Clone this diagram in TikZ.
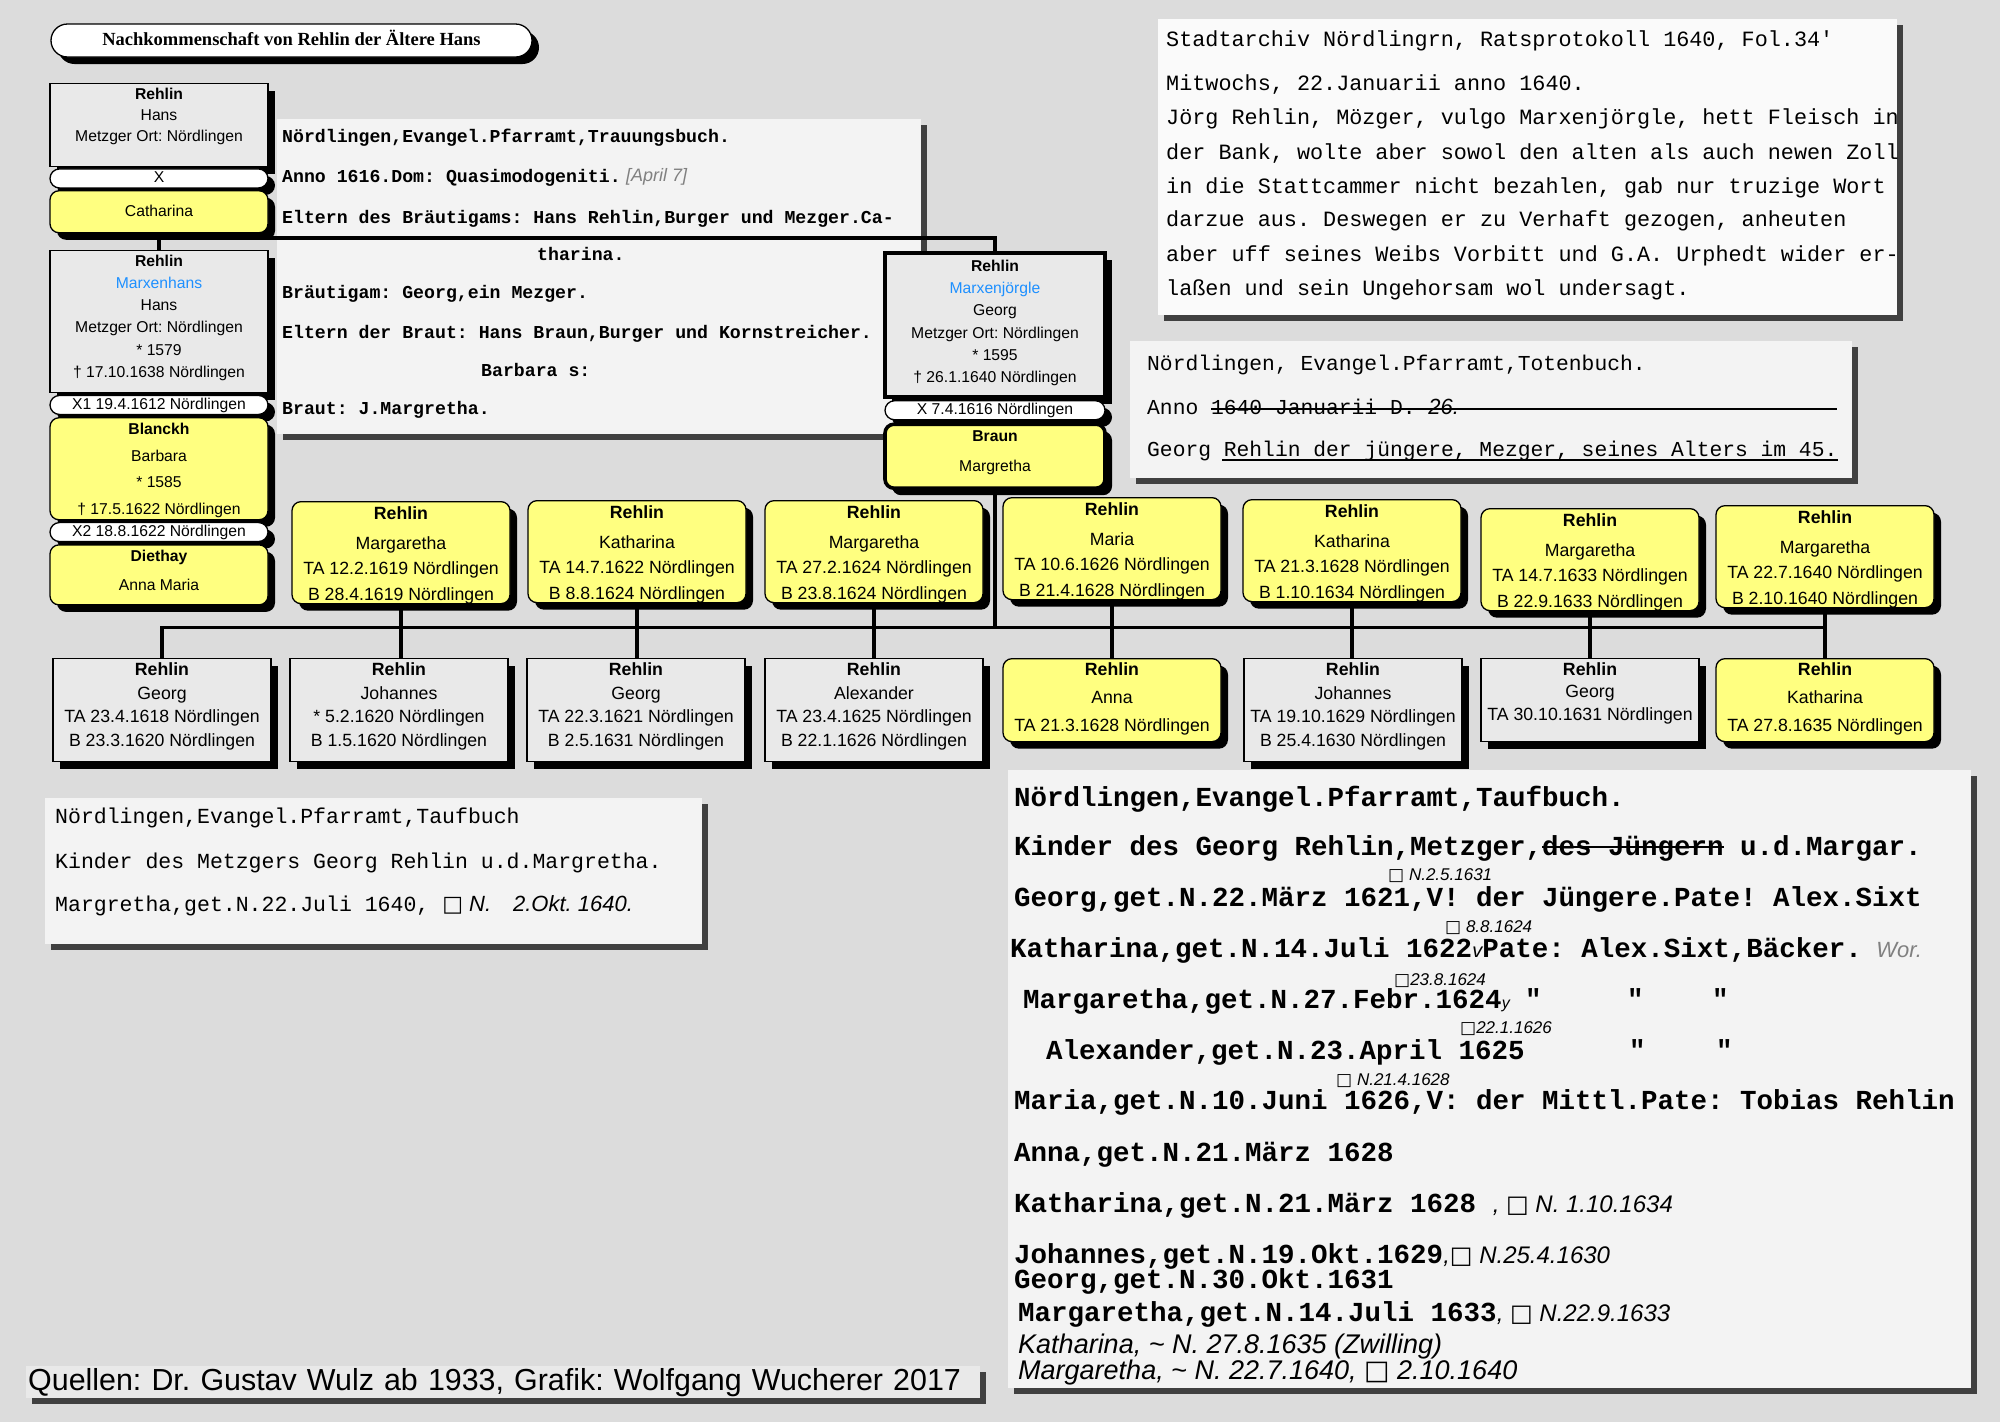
\documentclass[tikz,border=0pt]{standalone}
\usepackage{fontspec}
\setmainfont{Liberation Sans}
\newfontfamily\schreibm{Liberation Mono}
\newfontfamily\titelschrift{Liberation Serif}
\newfontfamily\symb{DejaVu Sans}
\usepackage{tikz}
\usetikzlibrary{
  positioning,
  shapes.misc,
  shadows
}

\definecolor{hgrund}{RGB}{220,220,220}
\definecolor{kastengrau}{RGB}{233,233,233}
\definecolor{gelb}{RGB}{255,255,128}
\definecolor{blau}{RGB}{30,144,255}
\definecolor{papier}{RGB}{243,243,243}

% Kasteninhalt: Hoehe, Breite, erste Grundlinie, Zeilenabstand, Text
\newcommand{\kasten}[5]{\parbox[c][#1][t]{#2}{\centering\baselineskip=#4\relax\rule{0pt}{#3}#5}}
% Handschrift und Begraebniszeichen
\newcommand{\hand}[2]{{\normalfont\itshape\fontsize{#1}{#1}\selectfont #2}}
\newcommand{\qu}{{\symb\upshape □}}

\begin{document}
\frenchspacing
\begin{tikzpicture}[
      x=1pt, y=-1pt,
      mann/.style={draw=black, line width=1.3pt, fill=kastengrau, inner sep=0pt,
        drop shadow={shadow xshift=7pt, shadow yshift=-7pt, fill=black, opacity=1}},
      frau/.style={mann, fill=gelb, rounded corners=9pt},
      ehe/.style={rounded rectangle, draw=black, line width=1.3pt, fill=white, inner sep=0pt,
        minimum width=218pt, minimum height=19pt, text height=11.5pt, text depth=3pt,
        drop shadow={shadow xshift=7pt, shadow yshift=-7pt, fill=black, opacity=1}},
      links/.style={font=\fontsize{15.7}{19}\selectfont},
      kind/.style={font=\fontsize{17.7}{22}\selectfont},
      dick/.style={line width=3.6pt},
      linie/.style={line width=3.2pt},
      scan/.style={fill=papier, inner sep=0pt, anchor=north west,
        drop shadow={shadow xshift=6pt, shadow yshift=-6pt, fill=black!75, opacity=1}},
      zeile/.style={anchor=base west, inner sep=0pt},
      notiz/.style={anchor=base west, inner sep=0pt}
  ]
      \useasboundingbox (0,0) rectangle (2000,1422);
      \fill[hgrund] (0,0) rectangle (2000,1422);

      % Trauungsbuch
      \node[scan, minimum width=644pt, minimum height=315pt] (trauung) at (277,119) {};
      \begin{scope}[font=\schreibm\bfseries\fontsize{18.2}{18}\selectfont]
          \clip (trauung.north west) rectangle (trauung.south east);
          \node[zeile] (tr1) at (282,142.5) {Nördlingen,Evangel.Pfarramt,Trauungsbuch.};
          \node[zeile] (tr2) at (282,182) {Anno 1616.Dom: Quasimodogeniti.};
          \node[right=5pt of tr2, inner sep=0pt, text=gray] (tr2h) {\hand{18}{[April 7]}};
          \node[zeile] (tr3) at (282,223) {Eltern des Bräutigams: Hans Rehlin,Burger und Mezger.Ca-};
          \node[zeile] (tr4) at (537,260) {tharina.};
          \node[zeile] (tr5) at (282,298) {Bräutigam: Georg,ein Mezger.};
          \node[zeile] (tr6) at (282,338) {Eltern der Braut: Hans Braun,Burger und Kornstreicher.};
          \node[zeile] (tr7) at (481,376) {Barbara s:};
          \node[zeile] (tr8) at (282,414) {Braut: J.Margretha.};
      \end{scope}

      % Ratsprotokoll
      \node[scan, fill=white!60!papier, minimum width=739pt, minimum height=296pt] (rats) at (1158,19) {};
      \begin{scope}[font=\schreibm\fontsize{21.8}{22}\selectfont]
          \clip (rats.north west) rectangle (rats.south east);
          \node[zeile] (ra1) at (1166,46.5) {Stadtarchiv Nördlingrn, Ratsprotokoll 1640, Fol.34'};
          \node[zeile] (ra2) at (1166,90) {Mitwochs, 22.Januarii anno 1640.};
          \node[zeile] (ra3) at (1166,124) {Jörg Rehlin, Mözger, vulgo Marxenjörgle, hett Fleisch in};
          \node[zeile] (ra4) at (1166,159) {der Bank, wolte aber sowol den alten als auch newen Zoll};
          \node[zeile] (ra5) at (1166,193) {in die Stattcammer nicht bezahlen, gab nur truzige Wort};
          \node[zeile] (ra6) at (1166,226) {darzue aus. Deswegen er zu Verhaft gezogen, anheuten};
          \node[zeile] (ra7) at (1166,261) {aber uff seines Weibs Vorbitt und G.A. Urphedt wider er-};
          \node[zeile] (ra8) at (1166,295) {laßen und sein Ungehorsam wol undersagt.};
      \end{scope}

      % Totenbuch
      \node[scan, minimum width=722pt, minimum height=137pt] (toten) at (1130,341) {};
      \begin{scope}[font=\schreibm\fontsize{21.3}{22}\selectfont]
          \node[zeile] (to1) at (1147,370.5) {Nördlingen, Evangel.Pfarramt,Totenbuch.};
          \node[zeile] (to2) at (1147,414) {Anno 1640 Januarii D. \hand{22}{26.}};
          \node[zeile] (to3) at (1147,456) {Georg Rehlin der jüngere, Mezger, seines Alters im 45.};
      \end{scope}
      \draw[line width=1.2pt] (1211,409) -- (1837,409);
      \draw[line width=1.2pt] (1222,460) -- (1838,460);

      % Taufbuch links
      \node[scan, minimum width=657pt, minimum height=146pt] (taufl) at (45,798) {};
      \begin{scope}[font=\schreibm\fontsize{21.5}{22}\selectfont]
          \node[zeile] (tl1) at (55,823) {Nördlingen,Evangel.Pfarramt,Taufbuch};
          \node[zeile] (tl2) at (55,868) {Kinder des Metzgers Georg Rehlin u.d.Margretha.};
          \node[zeile] (tl3) at (55,911) {Margretha,get.N.22.Juli 1640, \hand{22}{\qu\ N.\quad 2.Okt.\ 1640.}};
      \end{scope}

      % Taufbuch rechts
      \node[scan, minimum width=963pt, minimum height=618pt] (taufr) at (1008,770) {};
      \begin{scope}[font=\schreibm\bfseries\fontsize{27.5}{28}\selectfont]
          \clip (taufr.north west) rectangle (taufr.south east);
          \node[zeile] (r1) at (1014,806) {Nördlingen,Evangel.Pfarramt,Taufbuch.};
          \node[zeile] (r2) at (1014,855) {Kinder des Georg Rehlin,Metzger,des Jüngern u.d.Margar.};
          \node[notiz] (n1) at (1388,880) {\hand{17}{\qu\ N.2.5.1631}};
          \node[zeile] (r3) at (1014,906) {Georg,get.N.22.März 1621,V! der Jüngere.Pate! Alex.Sixt};
          \node[notiz] (n2) at (1445,932) {\hand{17}{\qu\ 8.8.1624}};
          \node[zeile] (r4) at (1010,957) {Katharina,get.N.14.Juli 1622\hand{20}{v}Pate: Alex.Sixt,Bäcker.};
          \node[right=14pt of r4, inner sep=0pt, text=gray] (r4h) {\hand{22}{Wor.}};
          \node[notiz] (n3) at (1394,985) {\hand{17}{\qu 23.8.1624}};
          \node[zeile] (r5) at (1023,1008) {Margaretha,get.N.27.Febr.1624\hand{16}{y}};
          \node[zeile] (d1) at (1525,1008) {"};
          \node[zeile] (d2) at (1627,1008) {"};
          \node[zeile] (d3) at (1712,1008) {"};
          \node[notiz] (n4) at (1460,1033) {\hand{17}{\qu 22.1.1626}};
          \node[zeile] (r6) at (1046,1059) {Alexander,get.N.23.April 1625};
          \node[zeile] (d4) at (1629,1059) {"};
          \node[zeile] (d5) at (1716,1059) {"};
          \node[notiz] (n5) at (1336,1085) {\hand{17}{\qu\ N.21.4.1628}};
          \node[zeile] (r7) at (1014,1109) {Maria,get.N.10.Juni 1626,V: der Mittl.Pate: Tobias Rehlin};
          \node[zeile] (r8) at (1014,1161) {Anna,get.N.21.März 1628};
          \node[zeile] (r9) at (1014,1212) {Katharina,get.N.21.März 1628 \hand{24}{,\ \qu\ N.\ 1.10.1634}};
          \node[zeile] (r10) at (1014,1263) {Johannes,get.N.19.Okt.1629\hand{24}{,\qu\ N.25.4.1630}};
          \node[zeile] (r11) at (1014,1288) {Georg,get.N.30.Okt.1631};
          \node[zeile] (r12) at (1018,1321) {Margaretha,get.N.14.Juli 1633\hand{24}{,\ \qu\ N.22.9.1633}};
          \node[notiz] (h1) at (1018,1353) {\hand{27}{Katharina, \textasciitilde\ N. 27.8.1635 (Zwilling)}};
          \node[notiz] (h2) at (1018,1379) {\hand{27}{Margaretha, \textasciitilde\ N. 22.7.1640, \qu\ 2.10.1640}};
      \end{scope}
      % gestrichen: des Juengern
      \draw[line width=1.6pt] (1542,847) -- (1724,847);

      % Titel
      \node[ehe, minimum width=481pt, minimum height=33pt, text height=13pt, text depth=4pt,
        font=\titelschrift\bfseries\fontsize{18.5}{20}\selectfont] (titel) at (291.5,40.5)
        {Nachkommenschaft von Rehlin der Ältere Hans};

      % Eltern und Grosseltern
      \node[mann, links, anchor=north] (hans) at (159,83)
        {\kasten{83pt}{218pt}{15.6pt}{21pt}{\textbf{Rehlin}\\Hans\\Metzger Ort: Nördlingen}};
      \node[ehe, links, below=1pt of hans] (xhans) {X};
      \node[frau, links, below=1.5pt of xhans] (catharina)
        {\kasten{42pt}{218pt}{25.6pt}{21pt}{Catharina}};

      \node[mann, links, anchor=north] (marxenhans) at (159,250)
        {\kasten{142pt}{218pt}{15.6pt}{22.2pt}{\textbf{Rehlin}\\\textcolor{blau}{Marxenhans}\\Hans\\Metzger Ort: Nördlingen\\{}* 1579\\† 17.10.1638 Nördlingen}};
      \node[ehe, links, below=1.5pt of marxenhans] (xeins) {X1 19.4.1612 Nördlingen};
      \node[frau, links, below=2pt of xeins] (blanckh)
        {\kasten{102pt}{218pt}{16.6pt}{26.7pt}{\textbf{Blanckh}\\Barbara\\{}* 1585\\† 17.5.1622 Nördlingen}};
      \node[ehe, links, below=1.5pt of blanckh] (xzwei) {X2 18.8.1622 Nördlingen};
      \node[frau, links, below=2pt of xzwei] (diethay)
        {\kasten{60pt}{218pt}{16.6pt}{29pt}{\textbf{Diethay}\\Anna Maria}};

      \node[mann, dick, links, anchor=north] (georg) at (995,251)
        {\kasten{144pt}{220pt}{18.6pt}{22.2pt}{\textbf{Rehlin}\\\textcolor{blau}{Marxenjörgle}\\Georg\\Metzger Ort: Nördlingen\\{}* 1595\\† 26.1.1640 Nördlingen}};
      \node[ehe, links, minimum width=220pt, below=1.5pt of georg] (xgeorg) {X 7.4.1616 Nördlingen};
      \node[frau, dick, links, below=2pt of xgeorg] (braun)
        {\kasten{64pt}{220pt}{17.6pt}{30pt}{\textbf{Braun}\\Margretha}};

      % Kinder obere Reihe
      \node[frau, kind, anchor=north] (o1) at (401,501)
        {\kasten{102pt}{218pt}{17.9pt}{25.5pt}{\textbf{Rehlin}\\[4pt]Margaretha\\TA 12.2.1619 Nördlingen\\B 28.4.1619 Nördlingen}};
      \node[frau, kind, anchor=north] (o2) at (637,500)
        {\kasten{102pt}{218pt}{17.9pt}{25.5pt}{\textbf{Rehlin}\\[4pt]Katharina\\TA 14.7.1622 Nördlingen\\B 8.8.1624 Nördlingen}};
      \node[frau, kind, anchor=north] (o3) at (874,500)
        {\kasten{102pt}{218pt}{17.9pt}{25.5pt}{\textbf{Rehlin}\\[4pt]Margaretha\\TA 27.2.1624 Nördlingen\\B 23.8.1624 Nördlingen}};
      \node[frau, kind, anchor=north] (o4) at (1112,497)
        {\kasten{102pt}{218pt}{17.9pt}{25.5pt}{\textbf{Rehlin}\\[4pt]Maria\\TA 10.6.1626 Nördlingen\\B 21.4.1628 Nördlingen}};
      \node[frau, kind, anchor=north] (o5) at (1352,499)
        {\kasten{102pt}{218pt}{17.9pt}{25.5pt}{\textbf{Rehlin}\\[4pt]Katharina\\TA 21.3.1628 Nördlingen\\B 1.10.1634 Nördlingen}};
      \node[frau, kind, anchor=north] (o6) at (1590,508)
        {\kasten{102pt}{218pt}{17.9pt}{25.5pt}{\textbf{Rehlin}\\[4pt]Margaretha\\TA 14.7.1633 Nördlingen\\B 22.9.1633 Nördlingen}};
      \node[frau, kind, anchor=north] (o7) at (1825,505)
        {\kasten{102pt}{218pt}{17.9pt}{25.5pt}{\textbf{Rehlin}\\[4pt]Margaretha\\TA 22.7.1640 Nördlingen\\B 2.10.1640 Nördlingen}};

      % Kinder untere Reihe
      \node[mann, kind, anchor=north] (u1) at (162,658)
        {\kasten{103pt}{218pt}{16.6pt}{23.8pt}{\textbf{Rehlin}\\Georg\\TA 23.4.1618 Nördlingen\\B 23.3.1620 Nördlingen}};
      \node[mann, kind, anchor=north] (u2) at (399,658)
        {\kasten{103pt}{218pt}{16.6pt}{23.8pt}{\textbf{Rehlin}\\Johannes\\{}* 5.2.1620 Nördlingen\\B 1.5.1620 Nördlingen}};
      \node[mann, kind, anchor=north] (u3) at (636,658)
        {\kasten{103pt}{218pt}{16.6pt}{23.8pt}{\textbf{Rehlin}\\Georg\\TA 22.3.1621 Nördlingen\\B 2.5.1631 Nördlingen}};
      \node[mann, kind, anchor=north] (u4) at (874,658)
        {\kasten{103pt}{218pt}{16.6pt}{23.8pt}{\textbf{Rehlin}\\Alexander\\TA 23.4.1625 Nördlingen\\B 22.1.1626 Nördlingen}};
      \node[frau, kind, anchor=north] (u5) at (1112,658)
        {\kasten{83pt}{218pt}{16.6pt}{28pt}{\textbf{Rehlin}\\Anna\\TA 21.3.1628 Nördlingen}};
      \node[mann, kind, anchor=north] (u6) at (1353,658)
        {\kasten{103pt}{218pt}{16.6pt}{23.8pt}{\textbf{Rehlin}\\Johannes\\TA 19.10.1629 Nördlingen\\B 25.4.1630 Nördlingen}};
      \node[mann, kind, anchor=north] (u7) at (1590,658)
        {\kasten{83pt}{218pt}{16.6pt}{22.5pt}{\textbf{Rehlin}\\Georg\\TA 30.10.1631 Nördlingen}};
      \node[frau, kind, anchor=north] (u8) at (1825,658)
        {\kasten{83pt}{218pt}{16.6pt}{28pt}{\textbf{Rehlin}\\Katharina\\TA 27.8.1635 Nördlingen}};

      % Verbindungen
      \draw[linie] (marxenhans.north) -- ++(0,-12) -| (georg.north);
      \coordinate (schiene) at (995,627.5);
      \draw[linie] (braun.south) -- (braun.south |- schiene);
      \draw[linie] (u1.north) |- (u8.north |- schiene);
      \foreach \o/\u in {1/2,2/3,3/4,4/5,5/6,6/7,7/8} {
          \draw[linie] (o\o.south) -- (o\o.south |- u\u.north);
      }

      % Quellen
      \node[scan, fill=kastengrau, minimum width=954pt, minimum height=32pt, inner xsep=2pt,
        text width=950pt, font=\fontsize{30.4}{30}\selectfont] (quelle) at (26,1366)
        {Quellen: Dr. Gustav Wulz ab 1933, Grafik: Wolfgang Wucherer 2017};

  \end{tikzpicture}
\end{document}
